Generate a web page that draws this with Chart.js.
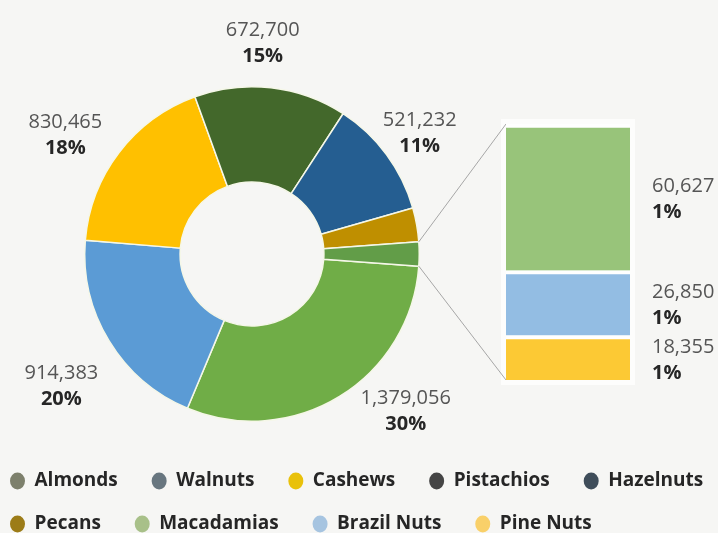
<!DOCTYPE html>
<html>
<head>
<meta charset="utf-8">
<script src="https://cdn.jsdelivr.net/npm/chart.js@4.4.1/dist/chart.umd.min.js"></script>
<style>
html, body { margin: 0; padding: 0; background: #f6f6f4; }
#wrap { position: relative; width: 718px; height: 533px; overflow: hidden; }
#wrap canvas { position: absolute; left: 0; top: 0; }
</style>
</head>
<body>
<div id="wrap">
  <canvas id="ring" width="718" height="533"></canvas>
  <canvas id="column" width="718" height="533"></canvas>
</div>
<script>
// Nut production by type: the main ring, with the three smallest types
// pulled out of the "Other" slice into a stacked column on the right.
const mainNuts = ['Almonds', 'Walnuts', 'Cashews', 'Pistachios', 'Hazelnuts', 'Pecans'];
const mainValues = [1379056, 914383, 830465, 672700, 521232, 150000];
const mainPctLabels = ['30%', '20%', '18%', '15%', '11%', ''];

const smallNuts = ['Macadamias', 'Brazil Nuts', 'Pine Nuts'];
const smallValues = [60627, 26850, 18355];
const smallPctLabels = ['1%', '1%', '1%'];

// colours
const mainColors = ['#70ad47', '#5b9bd5', '#ffc000', '#43682b', '#255e91', '#bf8f00'];
const otherColor = '#629d48';
const smallColors = ['#98c47a', '#93bde3', '#fcc934'];
const legendColors = ['#7d806c', '#68767f', '#e9c10a', '#454545', '#3f4d5a',
                      '#9c7c18', '#a8c089', '#a6c4e0', '#f9d069'];

const otherTotal = smallValues.reduce((a, b) => a + b, 0);
const grandTotal = mainValues.reduce((a, b) => a + b, 0) + otherTotal;
const fmt = v => v.toLocaleString('en-US');

Chart.defaults.font.family = "'Open Sans', sans-serif";

// value + percentage labels outside the ring
const ringLabels = {
  id: 'ringLabels',
  afterDatasetsDraw(chart, args, opts) {
    const ctx = chart.ctx;
    const arcs = chart.getDatasetMeta(0).data;
    const values = chart.data.datasets[0].data;
    ctx.save();
    ctx.textAlign = 'center';
    ctx.textBaseline = 'middle';
    mainPctLabels.forEach((pct, i) => {
      if (!pct) return;
      const a = arcs[i];
      const mid = (a.startAngle + a.endAngle) / 2;
      const r = a.outerRadius + opts.gap;
      const [dx, dy] = opts.shift[i];
      const x = a.x + Math.cos(mid) * r + dx;
      const y = a.y + Math.sin(mid) * r + dy;
      ctx.font = "20px 'Open Sans'";
      ctx.fillStyle = '#555555';
      ctx.fillText(fmt(values[i]), x, y - opts.lineGap / 2);
      ctx.font = "bold 20px 'Open Sans'";
      ctx.fillStyle = '#262626';
      ctx.fillText(pct, x, y + opts.lineGap / 2);
    });
    ctx.restore();
  }
};

const ring = new Chart(document.getElementById('ring'), {
  type: 'doughnut',
  data: {
    labels: [...mainNuts, 'Other'],
    datasets: [{
      data: [...mainValues, otherTotal],
      backgroundColor: [...mainColors, otherColor],
      borderColor: '#f5f7e8',
      borderWidth: 1.5,
      hoverOffset: 0,
      offset: 0
    }]
  },
  options: {
    responsive: false,
    animation: false,
    devicePixelRatio: 1,
    cutout: '43%',
    // centre the "Other" slice on the right-hand side
    rotation: 90 + 180 * otherTotal / grandTotal,
    layout: { padding: { left: 84, right: 298, top: 86, bottom: 111 } },
    plugins: {
      legend: { display: false },
      tooltip: { enabled: false },
      ringLabels: {
        gap: 50,
        lineGap: 26,
        shift: [[40, -28], [-5, 19], [-14, 13], [-14, 5], [-7, 8], [0, 0]]
      }
    }
  },
  plugins: [ringLabels]
});

// connector lines from the "Other" slice to the column, a pale panel behind
// the column, and the column's value labels
const columnExtras = {
  id: 'columnExtras',
  beforeDatasetsDraw(chart, args, opts) {
    const ctx = chart.ctx;
    const other = ring.getDatasetMeta(0).data[mainNuts.length];
    const R = other.outerRadius;
    const n = chart.data.datasets.length;
    const topBar = chart.getDatasetMeta(n - 1).data[0];
    const bottomBar = chart.getDatasetMeta(0).data[0];
    const left = topBar.x - topBar.width / 2;
    const right = topBar.x + topBar.width / 2;
    ctx.save();
    ctx.fillStyle = 'rgba(255,255,255,0.75)';
    ctx.fillRect(left - opts.panel, topBar.y - opts.panel,
                 right - left + 2 * opts.panel, bottomBar.base - topBar.y + 2 * opts.panel);
    ctx.strokeStyle = '#a6a6a6';
    ctx.lineWidth = 1;
    ctx.beginPath();
    ctx.moveTo(other.x + R * Math.cos(other.startAngle), other.y + R * Math.sin(other.startAngle));
    ctx.lineTo(left, topBar.y);
    ctx.moveTo(other.x + R * Math.cos(other.endAngle), other.y + R * Math.sin(other.endAngle));
    ctx.lineTo(left, bottomBar.base);
    ctx.stroke();
    ctx.restore();
  },
  afterDatasetsDraw(chart, args, opts) {
    const ctx = chart.ctx;
    ctx.save();
    ctx.textAlign = 'left';
    ctx.textBaseline = 'middle';
    chart.data.datasets.forEach((ds, i) => {
      const bar = chart.getDatasetMeta(i).data[0];
      const x = bar.x + bar.width / 2 + opts.gap;
      const y = (bar.y + opts.topBorder + bar.base) / 2;
      ctx.font = "20px 'Open Sans'";
      ctx.fillStyle = '#555555';
      ctx.fillText(fmt(ds.data[0]), x, y - opts.lineGap / 2);
      ctx.font = "bold 20px 'Open Sans'";
      ctx.fillStyle = '#262626';
      ctx.fillText(ds.pctLabel, x, y + opts.lineGap / 2);
    });
    ctx.restore();
  }
};

const hiddenAxis = {
  grid: { display: false },
  border: { display: false },
  ticks: { display: false }
};

const column = new Chart(document.getElementById('column'), {
  type: 'bar',
  data: {
    labels: ['Other'],
    // stacked bottom-up, so the list is reversed
    datasets: smallNuts.map((name, i) => ({
      label: name,
      data: [smallValues[i]],
      backgroundColor: smallColors[i],
      pctLabel: smallPctLabels[i]
    })).reverse()
  },
  options: {
    responsive: false,
    animation: false,
    devicePixelRatio: 1,
    layout: { padding: { left: -14, right: -30, top: 124, bottom: -10.5 } },
    datasets: {
      bar: {
        barPercentage: 1,
        categoryPercentage: 1,
        borderWidth: { top: 4, left: 0, right: 0, bottom: 0 },
        borderColor: '#ffffff',
        borderSkipped: false
      }
    },
    scales: {
      x: Object.assign({ stacked: true, afterFit: s => { s.height = 67.5; } }, hiddenAxis),
      y: Object.assign({ stacked: true, min: 0, max: otherTotal, position: 'left',
                         afterFit: s => { s.width = 520; } }, hiddenAxis),
      yRight: Object.assign({ type: 'linear', position: 'right',
                              afterFit: s => { s.width = 118; } }, hiddenAxis)
    },
    plugins: {
      tooltip: { enabled: false },
      columnExtras: { gap: 22, lineGap: 26, topBorder: 4, panel: 5 },
      legend: {
        position: 'bottom',
        align: 'start',
        labels: {
          usePointStyle: true,
          pointStyleWidth: 15,
          boxHeight: 12,
          padding: 24,
          color: '#262626',
          font: { size: 19, weight: 'bold' },
          generateLabels: () => [...mainNuts, ...smallNuts].map((name, i) => ({
            text: name + '  ',
            fillStyle: legendColors[i],
            strokeStyle: legendColors[i],
            lineWidth: 0,
            pointStyle: 'circle',
            hidden: false,
            fontColor: '#262626',
            index: i
          }))
        }
      }
    }
  },
  plugins: [columnExtras]
});
</script>
</body>
</html>
